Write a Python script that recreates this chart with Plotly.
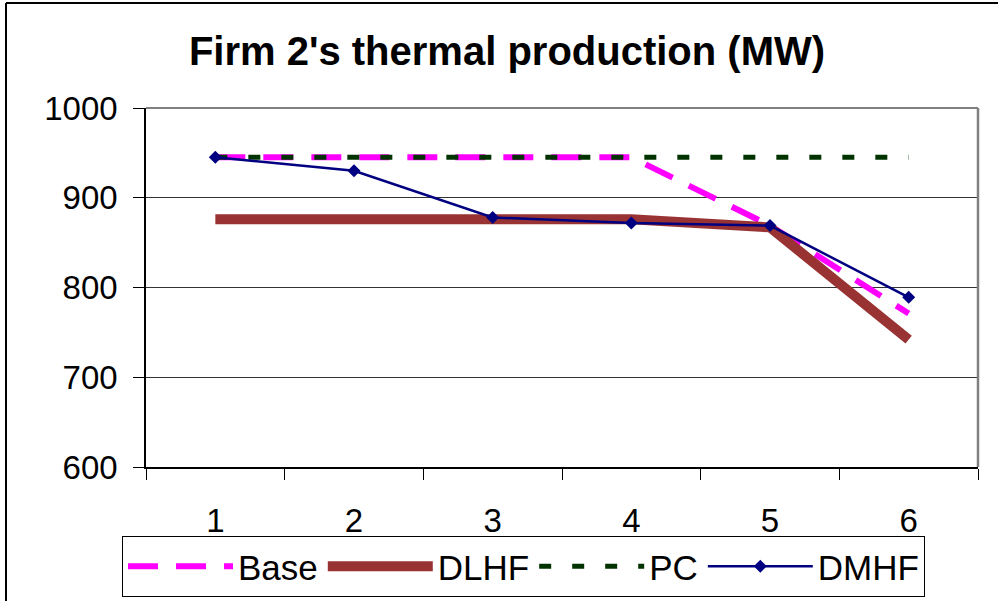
import plotly.graph_objects as go

categories = [1, 2, 3, 4, 5, 6]
base = [945, 945, 945, 945, 869, 771]
dlhf = [876, 876, 876, 876, 867, 742]
pc = [945, 945, 945, 945, 945, 945]
dmhf = [945, 930, 878, 872, 869, 789]
y_ticks = [600, 700, 800, 900, 1000]
x_labels = ["1", "2", "3", "4", "5", "6"]

FONT = "Liberation Sans, Arial, sans-serif"

fig = go.Figure()
fig.add_trace(go.Scatter(x=categories, y=base, name="Base", mode="lines",
                         line=dict(color="#FF00FF", width=6, dash="30px,18px")))
fig.add_trace(go.Scatter(x=categories, y=dlhf, name="DLHF", mode="lines",
                         line=dict(color="#993333", width=10)))
fig.add_trace(go.Scatter(x=categories, y=pc, name="PC", mode="lines",
                         line=dict(color="#003300", width=5, dash="12px,21px")))
fig.add_trace(go.Scatter(x=categories, y=dmhf, name="DMHF", mode="lines+markers",
                         line=dict(color="#000080", width=2.5),
                         marker=dict(symbol="diamond", size=10, color="#000080")))

fig.update_layout(
    width=998, height=601,
    margin=dict(l=146, r=20, t=108, b=134, autoexpand=False),
    paper_bgcolor="white", plot_bgcolor="white",
    font=dict(family=FONT, color="black", size=33),
    title=dict(text="<b>Firm 2's thermal production (MW)</b>",
               font=dict(family=FONT, size=40, color="black"),
               xref="container", x=0.508, xanchor="center",
               yref="container", y=1 - 51 / 601, yanchor="middle"),
    showlegend=True,
    legend=dict(orientation="h", xref="paper", x=(122 - 146) / 832, xanchor="left",
                yref="paper", y=(467 - 536) / 359, yanchor="top",
                bordercolor="black", borderwidth=1, bgcolor="white",
                font=dict(family=FONT, size=35, color="black"),
                itemwidth=105),
    xaxis=dict(range=[0.5, 6.5], tickmode="array", tickvals=categories, ticktext=x_labels,
               ticks="", showgrid=False, zeroline=False,
               showline=True, linecolor="black", linewidth=1.5,
               tickfont=dict(family=FONT, size=33, color="black"),
               ticklabelstandoff=24,
               minor=dict(tickmode="array", tickvals=[0.5, 1.5, 2.5, 3.5, 4.5, 5.5, 6.5],
                          ticks="outside", ticklen=11, tickcolor="black", tickwidth=1,
                          showgrid=False)),
    yaxis=dict(range=[600, 1000], tickmode="array", tickvals=y_ticks,
               ticks="outside", ticklen=11, tickcolor="black", tickwidth=1,
               showgrid=True, gridcolor="#333333", gridwidth=1, zeroline=False,
               showline=True, linecolor="black", linewidth=1.5,
               tickfont=dict(family=FONT, size=33, color="black"),
               ticklabelstandoff=9),
    shapes=[
        dict(type="line", xref="paper", yref="paper", x0=0, x1=1, y0=1, y1=1,
             line=dict(color="#808080", width=2)),
        dict(type="line", xref="paper", yref="paper", x0=1, x1=1, y0=0, y1=1,
             line=dict(color="#808080", width=2.5)),
        dict(type="line", xref="paper", yref="paper", x0=(6 - 146) / 832, x1=2,
             y0=(467 - 3) / 359, y1=(467 - 3) / 359, line=dict(color="black", width=2)),
        dict(type="line", xref="paper", yref="paper", x0=(6 - 146) / 832, x1=(6 - 146) / 832,
             y0=-1, y1=(467 - 3) / 359, line=dict(color="black", width=2)),
    ],
)

fig.write_html("out.html", config={"displayModeBar": False},
               post_script="document.body.style.margin='0';")
